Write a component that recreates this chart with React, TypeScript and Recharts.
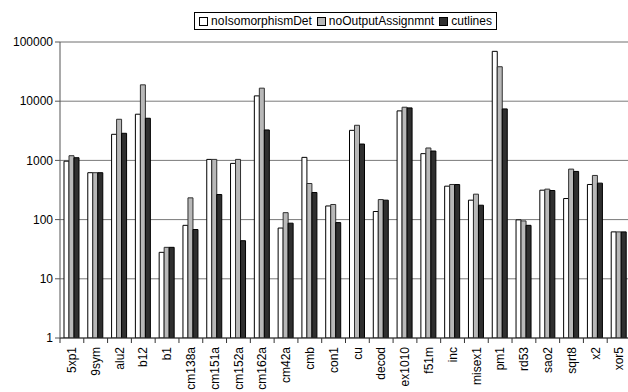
import React from "react";
import {
  BarChart,
  Bar,
  XAxis,
  YAxis,
  CartesianGrid,
  Legend,
  ReferenceLine,
} from "recharts";

const categories = [
  "5xp1", "9sym", "alu2", "b12", "b1", "cm138a", "cm151a", "cm152a",
  "cm162a", "cm42a", "cmb", "con1", "cu", "decod", "ex1010", "f51m",
  "inc", "misex1", "pm1", "rd53", "sao2", "sqrt8", "x2", "xor5",
];
const noIsomorphismDet = [
  970, 620, 2760, 6030, 28, 80, 1040, 890, 12300, 72, 1125, 170, 3220, 137,
  6860, 1300, 367, 213, 69500, 99, 314, 227, 392, 62,
];
const noOutputAssignmnt = [
  1200, 620, 4950, 18900, 34, 233, 1040, 1040, 16600, 131, 407, 180, 3920,
  218, 7910, 1620, 392, 269, 38200, 95, 327, 713, 557, 62,
];
const cutlines = [
  1110, 620, 2870, 5150, 34, 68, 265, 44, 3270, 87, 287, 89, 1890, 213, 7710,
  1440, 391, 175, 7410, 80, 310, 651, 413, 62,
];
const yTicks = [1, 10, 100, 1000, 10000, 100000];

const series = [
  { key: "noIsomorphismDet", fill: "#ffffff", stroke: "#000000" },
  { key: "noOutputAssignmnt", fill: "#b8b8b8", stroke: "#303030" },
  { key: "cutlines", fill: "#2f2f2f", stroke: "#000000" },
];

const data = categories.map((name, i) => ({
  name,
  noIsomorphismDet: noIsomorphismDet[i],
  noOutputAssignmnt: noOutputAssignmnt[i],
  cutlines: cutlines[i],
}));

const font = "'Liberation Sans', Arial, sans-serif";

// rotated category label plus the tick mark on the category boundary
const XTick = (props: any) => {
  const { x, y, payload } = props;
  const half = payload && payload.offset ? payload.offset : 12;
  return (
    <g>
      <line x1={x - half} y1={y - 8} x2={x - half} y2={y - 3} stroke="#333" />
      <text
        x={x}
        y={y + 1}
        dy="0.35em"
        transform={`rotate(-90, ${x}, ${y + 1})`}
        textAnchor="end"
        fontSize={12}
        fontFamily={font}
        fill="#000"
      >
        {payload.value}
      </text>
    </g>
  );
};

const LegendBox = () => (
  <div style={{ height: 30, display: "flex", justifyContent: "center" }}>
    <div
      style={{
        border: "1px solid #000",
        height: 16,
        display: "flex",
        alignItems: "center",
        padding: "0 4px",
        gap: 5,
        fontFamily: font,
        fontSize: 12,
        background: "#fff",
      }}
    >
      {series.map((s) => (
        <span key={s.key} style={{ display: "flex", alignItems: "center" }}>
          <span
            style={{
              width: 7,
              height: 7,
              border: "1px solid #000",
              background: s.fill,
              marginRight: 3,
              display: "inline-block",
            }}
          />
          {s.key}
        </span>
      ))}
    </div>
  </div>
);

export default function App() {
  return (
    <div
      style={{
        position: "fixed",
        left: 0,
        top: 0,
        width: 628,
        height: 392,
        overflow: "hidden",
        background: "#fff",
      }}
    >
      <BarChart
        width={635}
        height={392}
        data={data}
        margin={{ top: 12, right: 4, left: 0, bottom: 0 }}
        barCategoryGap={4}
        barGap={0}
      >
        <CartesianGrid vertical={false} stroke="#7a7a7a" />
        <ReferenceLine y={100000} stroke="#b0b0b0" />
        <XAxis
          dataKey="name"
          interval={0}
          height={54}
          tickLine={false}
          axisLine={{ stroke: "#333" }}
          tick={<XTick />}
        />
        <YAxis
          scale="log"
          domain={[1, 100000]}
          ticks={yTicks}
          width={60}
          allowDataOverflow
          tickSize={5}
          axisLine={{ stroke: "#555" }}
          tickLine={{ stroke: "#555" }}
          tick={{ fontSize: 12, fontFamily: font, fill: "#000" }}
        />
        <Legend
          verticalAlign="top"
          content={<LegendBox />}
          wrapperStyle={{ left: 60, width: 571 }}
        />
        {series.map((s) => (
          <Bar
            key={s.key}
            dataKey={s.key}
            fill={s.fill}
            stroke={s.stroke}
            strokeWidth={1}
            isAnimationActive={false}
          />
        ))}
      </BarChart>
    </div>
  );
}
